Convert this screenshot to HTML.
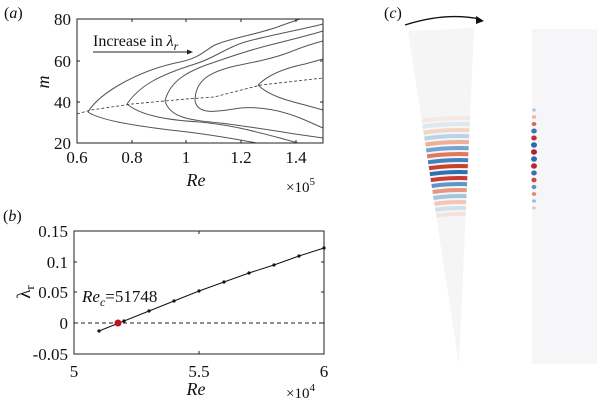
<!DOCTYPE html><html><head><style>html,body{margin:0;padding:0;background:#fff;width:600px;height:404px;overflow:hidden}svg{display:block}svg text{font-family:"Liberation Serif","Times New Roman",serif;fill:#111}</style></head><body>
<svg width="600" height="404" viewBox="0 0 600 404" font-family="Liberation Serif, serif">
<defs><clipPath id="w"><polygon points="408,31 474,28 459,365"/></clipPath></defs>
<text x="4" y="18" font-size="16">(<tspan font-style="italic">a</tspan>)</text>
<g stroke="#555" fill="none" stroke-width="1">
<path d="M88,112 C100,92 140,70 180,62 C200,58 205,50 215,45 C230,38 260,34 280,26 L300,19"/>
<path d="M88,112 C100,120 130,125 170,130 C200,133 230,138 257,143"/>
<path d="M127,104 C140,85 160,75 195,64 C215,58 225,48 245,42 C270,35 300,30 323,24"/>
<path d="M127,104 C140,115 165,120 200,122 C230,125 250,130 280,138 L298,143"/>
<path d="M165,101 C170,80 190,70 215,62 C235,55 250,50 270,45 C290,40 310,35 323,31"/>
<path d="M165,101 C170,118 190,120 220,123 C245,126 270,130 295,134 L323,138"/>
<path d="M195,101 C195,80 210,72 235,66 C255,62 275,58 290,52 C305,46 315,43 323,41"/>
<path d="M195,101 C198,115 215,112 240,108 C265,106 285,112 300,118 C310,122 318,126 323,128"/>
<path d="M258,85 C268,75 285,68 305,64 L323,59"/>
<path d="M258,85 C268,95 285,100 305,105 L323,110"/>
</g>
<path d="M77,114 L91,110 L132,104 L186,99 L214,97 L261,85 L323,78" stroke="#333" fill="none" stroke-dasharray="3,2" stroke-width="0.8"/>
<rect x="77" y="19" width="246" height="124" fill="none" stroke="#222" stroke-width="1"/>
<g stroke="#222"><path d="M132,143v-3M186,143v-3M241,143v-3M296,143v-3M77,102h3M77,61h3M323,102h-3M323,61h-3M132,19v3M186,19v3M241,19v3M296,19v3"/></g>
<g font-size="17" text-anchor="end"><text x="71" y="25">80</text><text x="71" y="67">60</text><text x="71" y="108">40</text><text x="71" y="149">20</text></g>
<g font-size="17" text-anchor="middle"><text x="77" y="163">0.6</text><text x="132" y="163">0.8</text><text x="186" y="163">1</text><text x="241" y="163">1.2</text><text x="296" y="163">1.4</text></g>
<text x="196" y="186" font-size="18" font-style="italic" text-anchor="middle">Re</text>
<text x="286" y="192" font-size="15">×10<tspan font-size="11" dy="-7">5</tspan></text>
<text x="49" y="82" font-size="18" font-style="italic" transform="rotate(-90 49 82)" text-anchor="middle">m</text>
<text x="93" y="46" font-size="16">Increase in <tspan font-style="italic">λ<tspan font-size="12" dy="4">r</tspan></tspan></text>
<path d="M93,52 L190,52" stroke="#222"/><path d="M193,52 l-6,-2.5 v5z" fill="#222"/>
<text x="3" y="221" font-size="16">(<tspan font-style="italic">b</tspan>)</text>
<rect x="74" y="231" width="250" height="123" fill="none" stroke="#222"/>
<path d="M74,323 H324" stroke="#222" stroke-dasharray="4,3"/>
<g stroke="#222"><path d="M74,262h3M74,292h3M324,262h-3M324,292h-3M324,323h-3M199,354v-3M199,231v3"/></g>
<g font-size="17" text-anchor="end"><text x="68" y="237">0.15</text><text x="68" y="268">0.1</text><text x="68" y="298">0.05</text><text x="68" y="329">0</text><text x="68" y="360">-0.05</text></g>
<g font-size="17" text-anchor="middle"><text x="74" y="377">5</text><text x="199" y="377">5.5</text><text x="324" y="377">6</text></g>
<text x="196" y="395" font-size="18" font-style="italic" text-anchor="middle">Re</text>
<text x="286" y="398" font-size="15">×10<tspan font-size="11" dy="-7">4</tspan></text>
<text x="30" y="292" font-size="19" transform="rotate(-90 30 292)" text-anchor="middle">λ<tspan font-size="13" dy="4">r</tspan></text>
<text x="82" y="302" font-size="17"><tspan font-style="italic">Re<tspan font-size="12" dy="4">c</tspan></tspan><tspan dy="-4">=51748</tspan></text>
<polyline points="99,331 124,321 149,311 174,301 199,291 224,282 249,273 274,265 299,256 324,248" fill="none" stroke="#111"/>
<g fill="#111"><circle cx="99" cy="331" r="1.6"/><circle cx="124" cy="321" r="1.6"/><circle cx="149" cy="311" r="1.6"/><circle cx="174" cy="301" r="1.6"/><circle cx="199" cy="291" r="1.6"/><circle cx="224" cy="282" r="1.6"/><circle cx="249" cy="273" r="1.6"/><circle cx="274" cy="265" r="1.6"/><circle cx="299" cy="256" r="1.6"/><circle cx="324" cy="248" r="1.6"/></g>
<circle cx="118" cy="323" r="3.5" fill="#c0141c"/>
<text x="384" y="18" font-size="16">(<tspan font-style="italic">c</tspan>)</text>
<path d="M405,25 Q445,12 480,19" stroke="#111" fill="none" stroke-width="1.3"/><path d="M484,21 l-8,-5 l0,8z" fill="#111"/>
<polygon points="408,31 474,28 459,365" fill="#f5f5f6"/>
<g clip-path="url(#w)" fill="none" stroke-width="4">
<circle cx="459" cy="365" r="151" stroke="#f2b8a0" opacity="0.3"/>
<circle cx="459" cy="365" r="157" stroke="#9cc2df" opacity="0.4"/>
<circle cx="459" cy="365" r="163" stroke="#f0a080" opacity="0.55"/>
<circle cx="459" cy="365" r="169" stroke="#80b0d8" opacity="0.7"/>
<circle cx="459" cy="365" r="175" stroke="#e58060" opacity="0.8"/>
<circle cx="459" cy="365" r="181" stroke="#4d8cc4" opacity="0.9"/>
<circle cx="459" cy="365" r="187" stroke="#c93a30" opacity="1"/>
<circle cx="459" cy="365" r="193" stroke="#2f70b0" opacity="1"/>
<circle cx="459" cy="365" r="199" stroke="#c9402f" opacity="1"/>
<circle cx="459" cy="365" r="205" stroke="#3a7ab8" opacity="0.95"/>
<circle cx="459" cy="365" r="211" stroke="#e06a4a" opacity="0.9"/>
<circle cx="459" cy="365" r="217" stroke="#5090c8" opacity="0.8"/>
<circle cx="459" cy="365" r="223" stroke="#ec9070" opacity="0.7"/>
<circle cx="459" cy="365" r="229" stroke="#8ab6dc" opacity="0.55"/>
<circle cx="459" cy="365" r="235" stroke="#f2b090" opacity="0.45"/>
<circle cx="459" cy="365" r="241" stroke="#b0cfe6" opacity="0.35"/>
<circle cx="459" cy="365" r="247" stroke="#f5c8b0" opacity="0.25"/>
</g>
<rect x="532" y="29" width="65" height="335" fill="#f6f5f7"/>
<g>
<ellipse cx="534" cy="110" rx="2" ry="1.6" fill="#b0cce4"/>
<ellipse cx="534" cy="117" rx="2.2" ry="1.8" fill="#eeb8a0"/>
<ellipse cx="534" cy="124" rx="2.4" ry="2" fill="#d86a50"/>
<ellipse cx="534" cy="131" rx="2.8" ry="2.5" fill="#3a78b8"/>
<ellipse cx="534" cy="138" rx="2.8" ry="2.5" fill="#c03030"/>
<ellipse cx="534" cy="145" rx="3" ry="2.7" fill="#2a68ac"/>
<ellipse cx="534" cy="152" rx="3" ry="2.7" fill="#b02028"/>
<ellipse cx="534" cy="159" rx="3" ry="2.7" fill="#2c6cb0"/>
<ellipse cx="534" cy="166" rx="3" ry="2.7" fill="#b52a2c"/>
<ellipse cx="534" cy="173" rx="2.8" ry="2.5" fill="#3272b4"/>
<ellipse cx="534" cy="180" rx="2.6" ry="2.3" fill="#cc4a3a"/>
<ellipse cx="534" cy="187" rx="2.4" ry="2.1" fill="#5a92c8"/>
<ellipse cx="534" cy="194" rx="2.2" ry="1.9" fill="#e48a6a"/>
<ellipse cx="534" cy="201" rx="2" ry="1.6" fill="#98bedf"/>
<ellipse cx="534" cy="208" rx="1.8" ry="1.5" fill="#f0c0a8"/>
</g>
</svg>
</body></html>
